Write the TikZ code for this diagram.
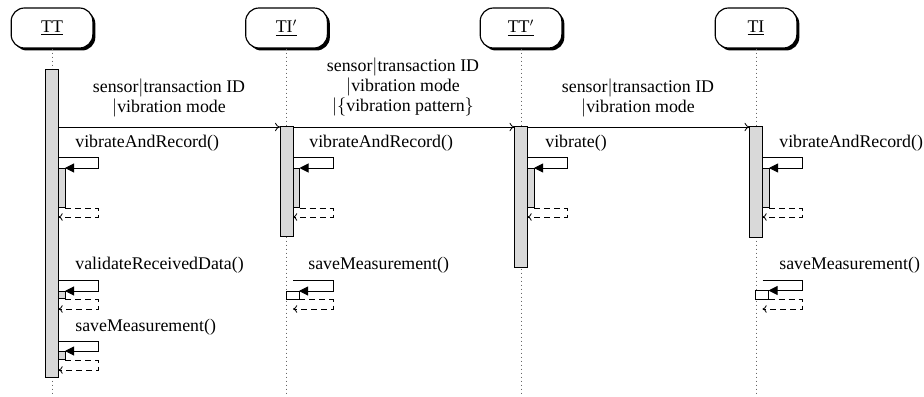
\documentclass[tikz,border=0pt]{standalone}
\usepackage{fontspec}
\setmainfont{Liberation Serif}
\usetikzlibrary{shadows,arrows.meta}
\begin{document}
\begin{tikzpicture}[x=0.6pt,y=-0.6pt,
  font=\fontsize{10.7}{12.1}\selectfont,
  inst/.style={draw, line width=0.7pt, rounded corners=8pt, minimum width=49pt, minimum height=24pt, fill=white,
    drop shadow={opacity=1, fill=black, shadow xshift=1.5pt, shadow yshift=-1.5pt}},
  life/.style={dotted, line width=0.4pt, black!60},
  barbox/.style={draw, fill=black!15, line width=0.6pt},
  wbox/.style={draw, fill=white, line width=0.6pt},
  msg/.style={-{To[length=3pt,width=5pt]}, line width=0.5pt},
  callarr/.style={-{Triangle[length=5.4pt,width=5.4pt]}, line width=0.6pt},
  ret/.style={-{To[length=2.5pt,width=4.5pt]}, dash pattern=on 3.6pt off 2.4pt, line width=0.5pt},
  mlbl/.style={align=center, inner sep=0pt},
  clbl/.style={anchor=west, inner sep=0pt}]
\useasboundingbox (0,0) rectangle (924,397);

% instances
\node[inst] (tt)  at (52,28)    {\underline{TT}};
\node[inst] (tip) at (286.5,28) {\underline{TI$'$}};
\node[inst] (ttp) at (521,28)   {\underline{TT$'$}};
\node[inst] (ti)  at (756,28)   {\underline{TI}};

% lifelines
\coordinate (ttend)  at (52,395);
\coordinate (tipend) at (286.5,395);
\coordinate (ttpend) at (521,395);
\coordinate (tiend)  at (756,395);
\draw[life] (tt.south) -- (ttend);
\draw[life] (tip.south) -- (tipend);
\draw[life] (ttp.south) -- (ttpend);
\draw[life] (ti.south) -- (tiend);

% activation bars
\draw[barbox] (45.5,70) rectangle (58.5,377);
\draw[barbox] (280,127) rectangle (293,236);
\draw[barbox] (514.5,127) rectangle (527.5,267);
\draw[barbox] (749.5,127) rectangle (762.5,237);

% messages
\coordinate (m1s) at (58.5,127); \coordinate (m1e) at (280,127);
\coordinate (m2s) at (293,127);  \coordinate (m2e) at (514.5,127);
\coordinate (m3s) at (527.5,127); \coordinate (m3e) at (749.5,127);
\draw[msg] (m1s) -- (m1e);
\draw[msg] (m2s) -- (m2e);
\draw[msg] (m3s) -- (m3e);
\node[mlbl] (l1) at (169,98) {sensor$|$transaction ID\\$|$vibration mode};
\node[mlbl] (l2) at (403,87) {sensor$|$transaction ID\\$|$vibration mode\\$|\{$vibration pattern$\}$};
\node[mlbl] (l3) at (638,98) {sensor$|$transaction ID\\$|$vibration mode};

% ---------- self calls, first row (y 158) ----------
% TT
\node[clbl] (c1) at (75,143) {vibrateAndRecord()};
\draw[barbox] (58.5,168) rectangle (65,207);
\coordinate (c1a) at (58.5,158); \coordinate (c1b) at (98.5,158); \coordinate (c1c) at (98.5,168); \coordinate (c1d) at (65,168);
\draw[callarr] (c1a) -- (c1b) -- (c1c) -- (c1d);
\coordinate (r1a) at (65,208); \coordinate (r1b) at (98.5,208); \coordinate (r1c) at (98.5,217); \coordinate (r1d) at (58.5,217);
\draw[ret] (r1a) -- (r1b) -- (r1c) -- (r1d);

% TI'
\node[clbl] (c2) at (309,143) {vibrateAndRecord()};
\draw[barbox] (293,168) rectangle (299.5,207);
\coordinate (c2a) at (293,158); \coordinate (c2b) at (333,158); \coordinate (c2c) at (333,168); \coordinate (c2d) at (299.5,168);
\draw[callarr] (c2a) -- (c2b) -- (c2c) -- (c2d);
\coordinate (r2a) at (299.5,208); \coordinate (r2b) at (333,208); \coordinate (r2c) at (333,217); \coordinate (r2d) at (293,217);
\draw[ret] (r2a) -- (r2b) -- (r2c) -- (r2d);

% TT'
\node[clbl] (c3) at (545,143) {vibrate()};
\draw[barbox] (527.5,168) rectangle (534,207);
\coordinate (c3a) at (527.5,158); \coordinate (c3b) at (567.5,158); \coordinate (c3c) at (567.5,168); \coordinate (c3d) at (534,168);
\draw[callarr] (c3a) -- (c3b) -- (c3c) -- (c3d);
\coordinate (r3a) at (534,208); \coordinate (r3b) at (567.5,208); \coordinate (r3c) at (567.5,217); \coordinate (r3d) at (527.5,217);
\draw[ret] (r3a) -- (r3b) -- (r3c) -- (r3d);

% TI
\node[clbl] (c4) at (779,143) {vibrateAndRecord()};
\draw[barbox] (762.5,168) rectangle (769,207);
\coordinate (c4a) at (762.5,158); \coordinate (c4b) at (802.5,158); \coordinate (c4c) at (802.5,168); \coordinate (c4d) at (769,168);
\draw[callarr] (c4a) -- (c4b) -- (c4c) -- (c4d);
\coordinate (r4a) at (769,208); \coordinate (r4b) at (802.5,208); \coordinate (r4c) at (802.5,217); \coordinate (r4d) at (762.5,217);
\draw[ret] (r4a) -- (r4b) -- (r4c) -- (r4d);

% ---------- second row (y 280) ----------
% TT validate
\node[clbl] (c5) at (75,265) {validateReceivedData()};
\draw[barbox] (58.5,291) rectangle (65,298.5);
\coordinate (c5a) at (58.5,280); \coordinate (c5b) at (98.5,280); \coordinate (c5c) at (98.5,291); \coordinate (c5d) at (65,291);
\draw[callarr] (c5a) -- (c5b) -- (c5c) -- (c5d);
\coordinate (r5a) at (65,299.5); \coordinate (r5b) at (98.5,299.5); \coordinate (r5c) at (98.5,309); \coordinate (r5d) at (58.5,309);
\draw[ret] (r5a) -- (r5b) -- (r5c) -- (r5d);

% TI' save
\node[clbl] (c6) at (308,265) {saveMeasurement()};
\draw[wbox] (286,291) rectangle (299,299);
\coordinate (c6a) at (293,280); \coordinate (c6b) at (333,280); \coordinate (c6c) at (333,291); \coordinate (c6d) at (299,291);
\draw[callarr] (c6a) -- (c6b) -- (c6c) -- (c6d);
\coordinate (r6a) at (299,299.5); \coordinate (r6b) at (333,299.5); \coordinate (r6c) at (333,309); \coordinate (r6d) at (293,309);
\draw[ret] (r6a) -- (r6b) -- (r6c) -- (r6d);

% TI save
\node[clbl] (c7) at (779,265) {saveMeasurement()};
\draw[wbox] (755.5,290.5) rectangle (768.5,299);
\coordinate (c7a) at (762.5,280); \coordinate (c7b) at (802.5,280); \coordinate (c7c) at (802.5,290.5); \coordinate (c7d) at (768.5,290.5);
\draw[callarr] (c7a) -- (c7b) -- (c7c) -- (c7d);
\coordinate (r7a) at (768.5,299.5); \coordinate (r7b) at (802.5,299.5); \coordinate (r7c) at (802.5,309); \coordinate (r7d) at (762.5,309);
\draw[ret] (r7a) -- (r7b) -- (r7c) -- (r7d);

% ---------- third row: TT save ----------
\node[clbl] (c8) at (75,327) {saveMeasurement()};
\draw[barbox] (58.5,351) rectangle (65,359);
\coordinate (c8a) at (58.5,341); \coordinate (c8b) at (98.5,341); \coordinate (c8c) at (98.5,351); \coordinate (c8d) at (65,351);
\draw[callarr] (c8a) -- (c8b) -- (c8c) -- (c8d);
\coordinate (r8a) at (65,360); \coordinate (r8b) at (98.5,360); \coordinate (r8c) at (98.5,370); \coordinate (r8d) at (58.5,370);
\draw[ret] (r8a) -- (r8b) -- (r8c) -- (r8d);
\end{tikzpicture}
\end{document}
